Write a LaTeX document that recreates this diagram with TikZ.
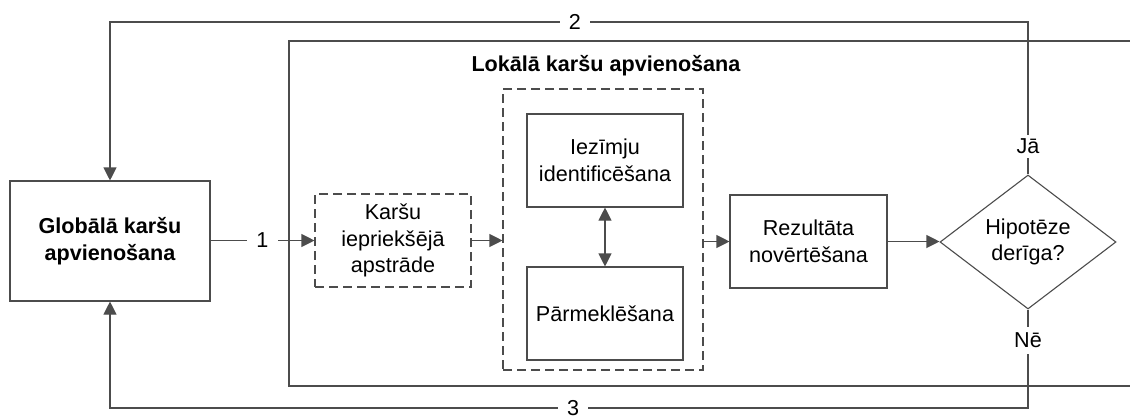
\documentclass[tikz,border=0pt]{standalone}
\usepackage{fontspec}
\setmainfont{Liberation Sans}
\usetikzlibrary{arrows.meta,shapes.geometric,calc}
\begin{document}
\begin{tikzpicture}[x=1pt,y=-1pt,
  font=\fontsize{21.6}{26.5}\selectfont,
  ln/.style={draw=black!70,line width=1.1pt},
  arr/.style={ln,-{Triangle[length=13pt,width=13pt]}},
  darr/.style={ln,{Triangle[length=13pt,width=13pt]}-{Triangle[length=13pt,width=13pt]}},
  boxs/.style={ln,rectangle,minimum width=#1,align=center,inner sep=0pt},
  dbox/.style={ln,dash pattern=on 9pt off 5pt,rectangle,align=center,inner sep=0pt},
  lbl/.style={fill=white,inner xsep=9pt,inner ysep=1pt}
]
\useasboundingbox (0,0) rectangle (1130,416);
\fill[white] (0,0) rectangle (1130,416);
% outer container (open to the right)
\coordinate (otr) at (1131,41);
\coordinate (otl) at (289,41);
\coordinate (obl) at (289,386);
\coordinate (obr) at (1131,386);
\draw[ln] (otr) -- (otl) -- (obl) -- (obr);
\node[font=\fontsize{21.6}{26.5}\selectfont\bfseries] (title) at (606,66) {Lokālā karšu apvienošana};
% nodes
\node[boxs=200pt,minimum height=120pt,font=\fontsize{21.6}{26.5}\selectfont\bfseries] (glob) at (110,241) {Globālā karšu\\apvienošana};
\node[dbox,minimum width=156pt,minimum height=93pt] (pre) at (393,240.5) {Karšu\\iepriekšējā\\apstrāde};
\node[dbox,minimum width=200pt,minimum height=281pt] (grp) at (603,229.5) {};
\node[boxs=156pt,minimum height=93pt] (up) at (605,160.5) {Iezīmju\\identificēšana};
\node[boxs=156pt,minimum height=93pt] (low) at (605,313.5) {Pārmeklēšana};
\node[boxs=157pt,minimum height=93pt] (rez) at (808.5,241.5) {Rezultāta\\novērtēšana};
\node[ln,diamond,aspect=1.31,inner sep=0pt,minimum width=176pt,minimum height=134pt,align=center] (hyp) at (1028,242) {Hipotēze\\derīga?};
\coordinate (ytop) at (0,22);
\coordinate (ybot) at (0,408);
% connectors
\draw[arr] (glob.east |- pre.west) -- node[lbl,pos=0.5]{1} (pre.west);
\draw[arr] (pre.east) -- (pre.east -| grp.west);
\draw[darr] (up.south) -- (low.north);
\draw[arr] (grp.east |- rez.west) -- (rez.west);
\draw[arr] (rez.east) -- (rez.east -| hyp.west);
\draw[arr] (hyp.north) -- node[lbl,pos=0.183,inner xsep=1pt,inner ysep=4pt]{Jā} (hyp.north |- ytop) -- node[lbl,pos=0.4935]{2} (glob.north |- ytop) -- (glob.north);
\draw[arr] (hyp.south) -- node[lbl,pos=0.313,inner xsep=1pt,inner ysep=6pt]{Nē} (hyp.south |- ybot) -- node[lbl,pos=0.4956]{3} (glob.south |- ybot) -- (glob.south);
\end{tikzpicture}
\end{document}
